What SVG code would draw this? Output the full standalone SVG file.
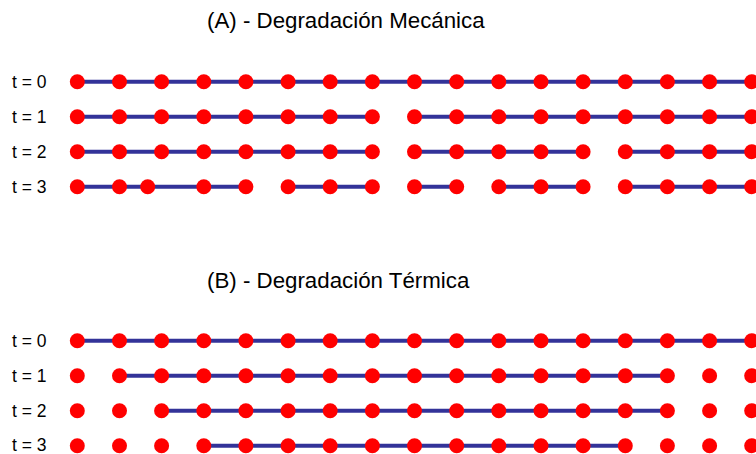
<svg xmlns="http://www.w3.org/2000/svg" width="756" height="454" viewBox="0 0 756 454">
<style>
.t{font-family:"Liberation Sans",Arial,sans-serif;fill:#000}
.title{font-size:22.3px}
.lab{font-size:17.5px}
.c{stroke:#333399;stroke-width:4;fill:none}
.d{fill:#ff0000}
</style>
<rect width="756" height="454" fill="#fff"/>
<text class="t title" x="207" y="28">(A) - Degradación Mecánica</text>
<text class="t title" x="207" y="288">(B) - Degradación Térmica</text>
<g id="labels">
<text class="t lab" x="12" y="88">t = 0</text>
<text class="t lab" x="12" y="123">t = 1</text>
<text class="t lab" x="12" y="158">t = 2</text>
<text class="t lab" x="12" y="193">t = 3</text>
<text class="t lab" x="12" y="347">t = 0</text>
<text class="t lab" x="12" y="382">t = 1</text>
<text class="t lab" x="12" y="417">t = 2</text>
<text class="t lab" x="12" y="451">t = 3</text>
</g>
<g id="connectors">
<line class="c" x1="77.3" y1="81.7" x2="751.7" y2="81.7"/>
<line class="c" x1="77.3" y1="116.7" x2="372.4" y2="116.7"/>
<line class="c" x1="414.5" y1="116.7" x2="751.7" y2="116.7"/>
<line class="c" x1="77.3" y1="151.7" x2="372.4" y2="151.7"/>
<line class="c" x1="414.5" y1="151.7" x2="583.1" y2="151.7"/>
<line class="c" x1="625.3" y1="151.7" x2="751.7" y2="151.7"/>
<line class="c" x1="77.3" y1="186.7" x2="245.9" y2="186.7"/>
<line class="c" x1="288.1" y1="186.7" x2="372.4" y2="186.7"/>
<line class="c" x1="414.5" y1="186.7" x2="456.7" y2="186.7"/>
<line class="c" x1="498.8" y1="186.7" x2="583.1" y2="186.7"/>
<line class="c" x1="625.3" y1="186.7" x2="751.7" y2="186.7"/>
<line class="c" x1="77.3" y1="340.7" x2="751.7" y2="340.7"/>
<line class="c" x1="119.5" y1="375.7" x2="667.4" y2="375.7"/>
<line class="c" x1="161.6" y1="410.7" x2="667.4" y2="410.7"/>
<line class="c" x1="203.8" y1="445.7" x2="625.3" y2="445.7"/>
</g>
<defs><circle id="dot" r="7.5" class="d"/></defs>
<g id="rowA0" transform="translate(0,81.7)">
<use href="#dot" x="77.3"/><use href="#dot" x="119.5"/><use href="#dot" x="161.6"/><use href="#dot" x="203.8"/><use href="#dot" x="245.9"/><use href="#dot" x="288.1"/><use href="#dot" x="330.2"/><use href="#dot" x="372.4"/><use href="#dot" x="414.5"/><use href="#dot" x="456.7"/><use href="#dot" x="498.8"/><use href="#dot" x="541"/><use href="#dot" x="583.1"/><use href="#dot" x="625.3"/><use href="#dot" x="667.4"/><use href="#dot" x="709.6"/><use href="#dot" x="751.7"/>
</g>
<g id="rowA1" transform="translate(0,116.7)">
<use href="#dot" x="77.3"/><use href="#dot" x="119.5"/><use href="#dot" x="161.6"/><use href="#dot" x="203.8"/><use href="#dot" x="245.9"/><use href="#dot" x="288.1"/><use href="#dot" x="330.2"/><use href="#dot" x="372.4"/><use href="#dot" x="414.5"/><use href="#dot" x="456.7"/><use href="#dot" x="498.8"/><use href="#dot" x="541"/><use href="#dot" x="583.1"/><use href="#dot" x="625.3"/><use href="#dot" x="667.4"/><use href="#dot" x="709.6"/><use href="#dot" x="751.7"/>
</g>
<g id="rowA2" transform="translate(0,151.7)">
<use href="#dot" x="77.3"/><use href="#dot" x="119.5"/><use href="#dot" x="161.6"/><use href="#dot" x="203.8"/><use href="#dot" x="245.9"/><use href="#dot" x="288.1"/><use href="#dot" x="330.2"/><use href="#dot" x="372.4"/><use href="#dot" x="414.5"/><use href="#dot" x="456.7"/><use href="#dot" x="498.8"/><use href="#dot" x="541"/><use href="#dot" x="583.1"/><use href="#dot" x="625.3"/><use href="#dot" x="667.4"/><use href="#dot" x="709.6"/><use href="#dot" x="751.7"/>
</g>
<g id="rowA3" transform="translate(0,186.7)">
<use href="#dot" x="77.3"/><use href="#dot" x="119.5"/><use href="#dot" x="147.7"/><use href="#dot" x="203.8"/><use href="#dot" x="245.9"/><use href="#dot" x="288.1"/><use href="#dot" x="330.2"/><use href="#dot" x="372.4"/><use href="#dot" x="414.5"/><use href="#dot" x="456.7"/><use href="#dot" x="498.8"/><use href="#dot" x="541"/><use href="#dot" x="583.1"/><use href="#dot" x="625.3"/><use href="#dot" x="667.4"/><use href="#dot" x="709.6"/><use href="#dot" x="751.7"/>
</g>
<g id="rowB0" transform="translate(0,340.7)">
<use href="#dot" x="77.3"/><use href="#dot" x="119.5"/><use href="#dot" x="161.6"/><use href="#dot" x="203.8"/><use href="#dot" x="245.9"/><use href="#dot" x="288.1"/><use href="#dot" x="330.2"/><use href="#dot" x="372.4"/><use href="#dot" x="414.5"/><use href="#dot" x="456.7"/><use href="#dot" x="498.8"/><use href="#dot" x="541"/><use href="#dot" x="583.1"/><use href="#dot" x="625.3"/><use href="#dot" x="667.4"/><use href="#dot" x="709.6"/><use href="#dot" x="751.7"/>
</g>
<g id="rowB1" transform="translate(0,375.7)">
<use href="#dot" x="77.3"/><use href="#dot" x="119.5"/><use href="#dot" x="161.6"/><use href="#dot" x="203.8"/><use href="#dot" x="245.9"/><use href="#dot" x="288.1"/><use href="#dot" x="330.2"/><use href="#dot" x="372.4"/><use href="#dot" x="414.5"/><use href="#dot" x="456.7"/><use href="#dot" x="498.8"/><use href="#dot" x="541"/><use href="#dot" x="583.1"/><use href="#dot" x="625.3"/><use href="#dot" x="667.4"/><use href="#dot" x="709.6"/><use href="#dot" x="751.7"/>
</g>
<g id="rowB2" transform="translate(0,410.7)">
<use href="#dot" x="77.3"/><use href="#dot" x="119.5"/><use href="#dot" x="161.6"/><use href="#dot" x="203.8"/><use href="#dot" x="245.9"/><use href="#dot" x="288.1"/><use href="#dot" x="330.2"/><use href="#dot" x="372.4"/><use href="#dot" x="414.5"/><use href="#dot" x="456.7"/><use href="#dot" x="498.8"/><use href="#dot" x="541"/><use href="#dot" x="583.1"/><use href="#dot" x="625.3"/><use href="#dot" x="667.4"/><use href="#dot" x="709.6"/><use href="#dot" x="751.7"/>
</g>
<g id="rowB3" transform="translate(0,445.7)">
<use href="#dot" x="77.3"/><use href="#dot" x="119.5"/><use href="#dot" x="161.6"/><use href="#dot" x="203.8"/><use href="#dot" x="245.9"/><use href="#dot" x="288.1"/><use href="#dot" x="330.2"/><use href="#dot" x="372.4"/><use href="#dot" x="414.5"/><use href="#dot" x="456.7"/><use href="#dot" x="498.8"/><use href="#dot" x="541"/><use href="#dot" x="583.1"/><use href="#dot" x="625.3"/><use href="#dot" x="667.4"/><use href="#dot" x="709.6"/><use href="#dot" x="751.7"/>
</g>
</svg>
